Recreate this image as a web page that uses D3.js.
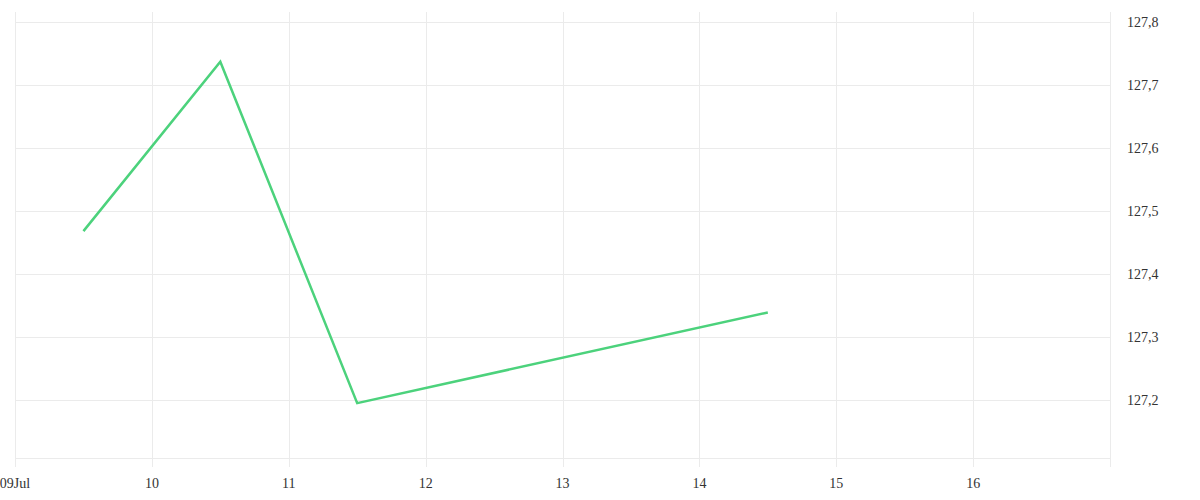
<!DOCTYPE html>
<html><head><meta charset="utf-8">
<script src="https://cdn.jsdelivr.net/npm/d3@7/dist/d3.min.js"></script>
<style>body{margin:0;background:#fff}svg{display:block}</style>
</head><body><svg id="c" width="1200" height="500"></svg>
<script>
const dates = ["2024-07-09T12:00","2024-07-10T12:00","2024-07-11T12:00","2024-07-14T12:00"];
const values = [127.468, 127.737, 127.195, 127.339];
const yTicks = [127.2,127.3,127.4,127.5,127.6,127.7,127.8];
const xTickDates = ["2024-07-09","2024-07-10","2024-07-11","2024-07-12","2024-07-13","2024-07-14","2024-07-15","2024-07-16"];
const xTickLabels = ["09Jul","10","11","12","13","14","15","16"];

const svg = d3.select("#c");
const L=15, R=1110, T=12, B=458;
const parse = d3.timeParse("%Y-%m-%dT%H:%M");
const parseD = d3.timeParse("%Y-%m-%d");
const x = d3.scaleTime().domain([parseD("2024-07-09"), parseD("2024-07-17")]).range([L,R]);
const y = d3.scaleLinear().domain([127.1079, 127.8159]).range([B,T]);
const grid = "#ebebeb";
const font = "'Liberation Serif', serif";

svg.append("g").selectAll("line").data(yTicks).join("line")
  .attr("x1",L).attr("x2",R).attr("y1",d=>Math.round(y(d))+0.5).attr("y2",d=>Math.round(y(d))+0.5)
  .attr("stroke",grid);
svg.append("line").attr("x1",L).attr("x2",R).attr("y1",B+0.5).attr("y2",B+0.5).attr("stroke",grid);
const xt = xTickDates.map(parseD);
svg.append("g").selectAll("line").data(xt).join("line")
  .attr("x1",d=>Math.round(x(d))+0.5).attr("x2",d=>Math.round(x(d))+0.5).attr("y1",T).attr("y2",B+9)
  .attr("stroke",grid);
svg.append("line").attr("x1",R+0.5).attr("x2",R+0.5).attr("y1",T).attr("y2",B+9).attr("stroke",grid);

svg.append("g").selectAll("text").data(xt).join("text")
  .attr("x",d=>x(d)).attr("y",488).attr("text-anchor","middle")
  .attr("font-family",font).attr("font-size",14).attr("fill","#333")
  .text((d,i)=>xTickLabels[i]);
svg.append("g").selectAll("text").data(yTicks).join("text")
  .attr("x",1127).attr("y",d=>y(d)+5)
  .attr("font-family",font).attr("font-size",14).attr("fill","#333")
  .text(d=>d3.format(".1f")(d).replace(".",","));

const pts = dates.map((d,i)=>[parse(d), values[i]]);
svg.append("path").datum(pts)
  .attr("fill","none").attr("stroke","#4cd27c").attr("stroke-width",2.5)
  .attr("d", d3.line().x(d=>x(d[0])).y(d=>y(d[1])));
</script></body></html>
